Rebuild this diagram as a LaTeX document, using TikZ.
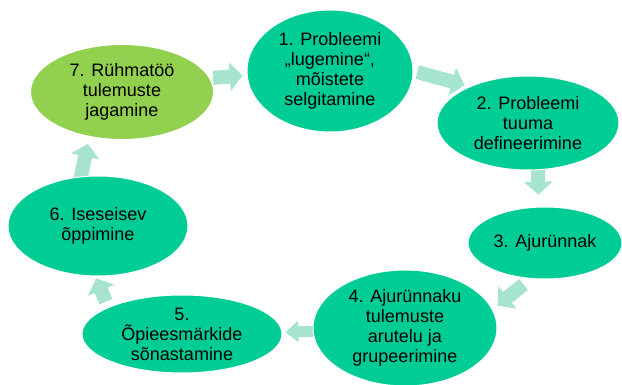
\documentclass[tikz,border=0pt]{standalone}
\usepackage{fontspec}
\setmainfont{Liberation Sans}
\usetikzlibrary{shapes.geometric,arrows.meta,backgrounds}
\definecolor{tealfill}{RGB}{0,204,150}
\definecolor{limefill}{RGB}{146,208,80}
\definecolor{mintarrow}{RGB}{166,228,208}
\tikzset{
stage/.style={ellipse, fill=tealfill, draw=white, line width=1pt, inner sep=0pt, align=center, font=\fontsize{18}{20}\selectfont},
flow/.style={draw=mintarrow, line width=14pt, -{Triangle[width=28pt,length=13pt]}}
}
\begin{document}
\begin{tikzpicture}[x=1pt,y=-1pt]
\useasboundingbox (0,0) rectangle (622,385);

\node [stage, minimum width=166pt, minimum height=122pt] (s1) at (330,71) {1. Probleemi\\„lugemine“,\\mõistete\\selgitamine};
\node [stage, minimum width=182pt, minimum height=94pt] (s2) at (528,123) {2. Probleemi\\tuuma\\defineerimine};
\node [stage, minimum width=154pt, minimum height=72pt] (s3) at (545,243) {3. Ajurünnak};
\node [stage, minimum width=184pt, minimum height=116pt] (s4) at (405,328) {4. Ajurünnaku\\tulemuste\\arutelu ja\\grupeerimine};
\node [stage, minimum width=200pt, minimum height=78pt] (s5) at (182,334) {5.\\Õpieesmärkide\\sõnastamine};
\node [stage, minimum width=180pt, minimum height=100pt] (s6) at (98,226) {6. Iseseisev\\õppimine};
\node [stage, fill=limefill, minimum width=183pt, minimum height=95pt] (s7) at (122,92) {7. Rühmatöö\\tulemuste\\jagamine};

\begin{scope}[on background layer]
\draw [flow, shorten <=3pt, shorten >=4pt] (s7.9) -- (s1.183);
\draw [flow, shorten <=4pt, shorten >=5pt] (s1.0) -- (s2.148);
\draw [flow, shorten <=-3pt, shorten >=12pt] (s2.282) -- (s3.100);
\draw [flow, shorten <=9pt, shorten >=6pt] (s3.248) -- (s4.12);
\draw [flow, line width=11pt, -{Triangle[width=21pt,length=13pt]}, shorten <=-3pt, shorten >=3pt] (s4.182) -- (s5.1);
\draw [flow, shorten <=6pt, shorten >=2pt] (s5.160) -- (s6.267);
\draw [flow, shorten <=-3pt, shorten >=7pt] (s6.109) -- (s7.234);
\end{scope}
\end{tikzpicture}
\end{document}
